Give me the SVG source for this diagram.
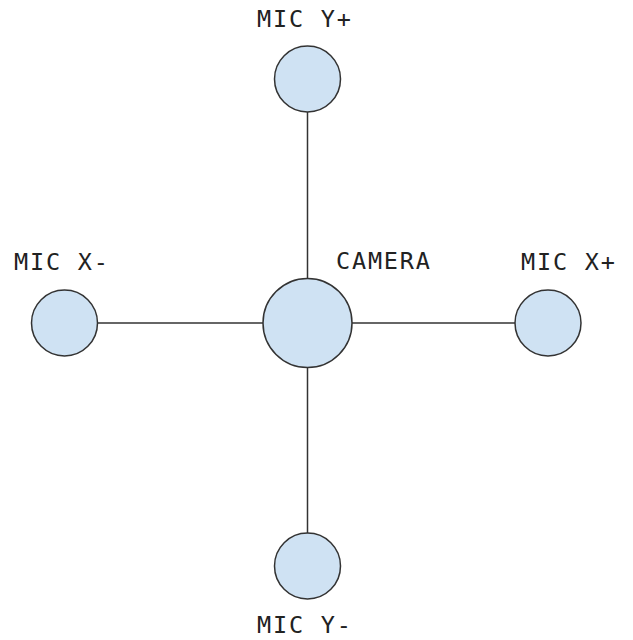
<svg xmlns="http://www.w3.org/2000/svg" width="633" height="640" viewBox="0 0 633 640">
  <style>
    .node { fill: #cfe2f3; stroke: #333333; stroke-width: 1.5; }
    .link { stroke: #333333; stroke-width: 1.5; fill: none; }
    .label { font-family: "DejaVu Sans Mono", "Liberation Mono", monospace; font-size: 23.5px; letter-spacing: 1.8px; fill: #222222; }
  </style>
  <rect width="633" height="640" fill="#ffffff"/>
  <g id="connectors">
    <line class="link" x1="307.5" y1="112" x2="307.5" y2="279"/>
    <line class="link" x1="307.5" y1="368" x2="307.5" y2="533"/>
    <line class="link" x1="97" y1="323" x2="263" y2="323"/>
    <line class="link" x1="352" y1="323" x2="515" y2="323"/>
  </g>
  <g id="camera">
    <circle class="node" cx="307.5" cy="323" r="44.5"/>
    <text class="label" x="336" y="269">CAMERA</text>
  </g>
  <g id="mic-y-plus">
    <circle class="node" cx="307.5" cy="79" r="33"/>
    <text class="label" x="257" y="27">MIC Y+</text>
  </g>
  <g id="mic-y-minus">
    <circle class="node" cx="307.5" cy="566" r="33"/>
    <text class="label" x="257" y="633">MIC Y-</text>
  </g>
  <g id="mic-x-minus">
    <circle class="node" cx="64.5" cy="323" r="33"/>
    <text class="label" x="14" y="270">MIC X-</text>
  </g>
  <g id="mic-x-plus">
    <circle class="node" cx="548" cy="323" r="33"/>
    <text class="label" x="521" y="270">MIC X+</text>
  </g>
</svg>
